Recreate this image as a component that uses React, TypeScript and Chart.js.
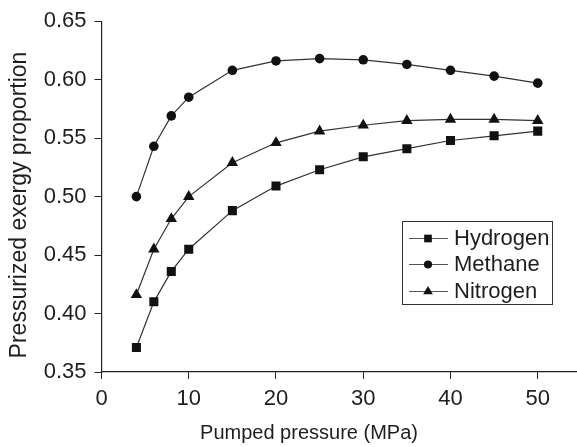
import React, { useEffect, useRef } from "react";
import { Chart, registerables } from "chart.js";

Chart.register(...registerables);

const pressures = [4, 6, 8, 10, 15, 20, 25, 30, 35, 40, 45, 50];
const hydrogen = [0.371, 0.41, 0.436, 0.455, 0.488, 0.509, 0.523, 0.534, 0.541, 0.548, 0.552, 0.556];
const methane = [0.5, 0.543, 0.569, 0.585, 0.608, 0.616, 0.618, 0.617, 0.613, 0.608, 0.603, 0.597];
const nitrogen = [0.416, 0.455, 0.481, 0.5, 0.529, 0.546, 0.556, 0.561, 0.565, 0.566, 0.566, 0.565];
const seriesNames = ["Hydrogen", "Methane", "Nitrogen"];
const xTicks = [0, 10, 20, 30, 40, 50];
const yTicks = [0.35, 0.4, 0.45, 0.5, 0.55, 0.6, 0.65];
const xTitle = "Pumped pressure (MPa)";
const yTitle = "Pressurized exergy proportion";

const FONT = "'Liberation Sans', Arial, Helvetica, sans-serif";
const LINE = "#333333";
const MARK = "#111111";
const TEXT = "#1e1e1e";

function drawMarker(ctx: CanvasRenderingContext2D, style: string, x: number, y: number, r: number) {
  ctx.beginPath();
  if (style === "rect") {
    const s = Math.SQRT1_2 * r;
    ctx.rect(x - s, y - s, 2 * s, 2 * s);
  } else if (style === "triangle") {
    const a = -Math.PI / 2;
    for (let i = 0; i < 3; i++) {
      const ang = a + (i * 2 * Math.PI) / 3;
      const px = x + r * Math.cos(ang);
      const py = y + r * Math.sin(ang);
      if (i === 0) ctx.moveTo(px, py);
      else ctx.lineTo(px, py);
    }
    ctx.closePath();
  } else {
    ctx.arc(x, y, r, 0, Math.PI * 2);
  }
  ctx.fillStyle = MARK;
  ctx.fill();
}

const overlayPlugin = {
  id: "overlay",
  afterDraw(chart: any) {
    const ctx = chart.ctx as CanvasRenderingContext2D;
    ctx.save();
    ctx.fillStyle = TEXT;
    ctx.textAlign = "center";
    ctx.textBaseline = "middle";
    ctx.font = `20px ${FONT}`;
    ctx.fillText(xTitle, 309, 433);
    ctx.save();
    ctx.translate(20, 205);
    ctx.rotate(-Math.PI / 2);
    ctx.font = `23px ${FONT}`;
    ctx.fillText(yTitle, 0, 0);
    ctx.restore();
    ctx.strokeStyle = "#333";
    ctx.lineWidth = 1;
    ctx.strokeRect(402.5, 221.5, 150, 83);
    const rows = [238, 264, 291];
    chart.data.datasets.forEach((ds: any, i: number) => {
      const y = rows[i];
      ctx.strokeStyle = "#555";
      ctx.lineWidth = 1;
      ctx.beginPath();
      ctx.moveTo(409, y + 0.5);
      ctx.lineTo(448, y + 0.5);
      ctx.stroke();
      drawMarker(ctx, ds.pointStyle, 428, y + 0.5, ds.pointRadius * 0.85);
      ctx.fillStyle = TEXT;
      ctx.font = `22px ${FONT}`;
      ctx.textBaseline = "middle";
      ctx.textAlign = "left";
      ctx.fillText(ds.label, 454, y + 1);
    });
    ctx.restore();
  },
};

export default function App() {
  const ref = useRef<HTMLCanvasElement | null>(null);
  useEffect(() => {
    if (!ref.current) return;
    const mk = (vals: number[]) => pressures.map((p, i) => ({ x: p, y: vals[i] }));
    const base = {
      borderColor: LINE,
      borderWidth: 1.2,
      pointBackgroundColor: MARK,
      pointBorderColor: MARK,
      pointBorderWidth: 0,
      showLine: true,
      tension: 0,
    };
    const chart = new Chart(ref.current, {
      type: "scatter",
      data: {
        datasets: [
          { ...base, label: seriesNames[0], data: mk(hydrogen), pointStyle: "rect", pointRadius: 6.4 },
          { ...base, label: seriesNames[1], data: mk(methane), pointStyle: "circle", pointRadius: 4.8 },
          { ...base, label: seriesNames[2], data: mk(nitrogen), pointStyle: "triangle", pointRadius: 6.6 },
        ],
      },
      options: {
        animation: false,
        responsive: false,
        layout: { autoPadding: false, padding: { top: 17, right: 0, left: 0, bottom: 0 } },
        plugins: { legend: { display: false }, tooltip: { enabled: false } },
        scales: {
          x: {
            type: "linear",
            min: 0,
            max: 54.5,
            afterBuildTicks: (s: any) => {
              s.ticks = xTicks.map((v) => ({ value: v }));
            },
            afterFit: (s: any) => {
              s.height = 75;
            },
            grid: { drawOnChartArea: false, drawTicks: true, tickLength: 7, color: "#222", lineWidth: 1 },
            border: { color: "#222", width: 1.2 },
            ticks: { color: TEXT, font: { family: FONT, size: 22 }, padding: 7, maxRotation: 0, autoSkip: false },
            title: { display: false },
          },
          y: {
            type: "linear",
            min: 0.35,
            max: 0.65,
            afterBuildTicks: (s: any) => {
              s.ticks = yTicks.map((v) => ({ value: v }));
            },
            afterFit: (s: any) => {
              s.width = 101.5;
            },
            grid: { drawOnChartArea: false, drawTicks: true, tickLength: 7, color: "#222", lineWidth: 1 },
            border: { color: "#222", width: 1.2 },
            ticks: { color: TEXT, font: { family: FONT, size: 22 }, padding: 8, callback: (v: any) => Number(v).toFixed(2) },
            title: { display: false },
          },
        },
      },
      plugins: [overlayPlugin],
    });
    return () => chart.destroy();
  }, []);
  return (
    <div style={{ position: "fixed", left: 0, top: 0, width: 577, height: 447, background: "#fff" }}>
      <canvas ref={ref} width={577} height={447} style={{ width: 577, height: 447, display: "block" }} />
    </div>
  );
}
